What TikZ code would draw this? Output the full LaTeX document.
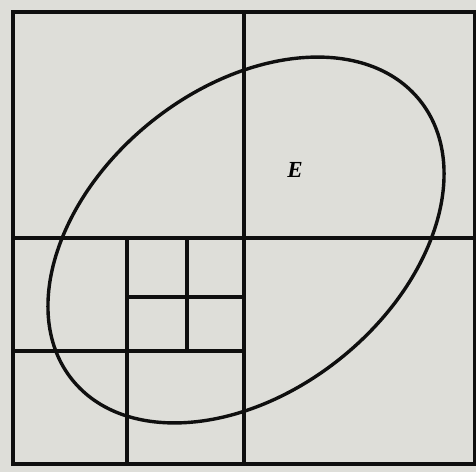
\documentclass[tikz,border=0pt]{standalone}
\usepackage{fontspec}
\setmainfont{Liberation Serif}
\definecolor{paper}{RGB}{222,222,217}
\definecolor{ink}{RGB}{15,15,15}
\begin{document}
\begin{tikzpicture}[x=1pt,y=-1pt,
  gridline/.style={draw=ink,line width=3.8pt,line cap=rect},
  oval/.style={draw=ink,line width=3.4pt},
  lab/.style={inner sep=0pt,font=\fontsize{23}{25}\selectfont\bfseries\itshape}]
\fill[paper] (0,0) rectangle (476,472);
\useasboundingbox (0,0) rectangle (476,472);
% outer square
\draw[gridline] (13,12) rectangle (475,464);
% main cross
\draw[gridline] (244,12) -- (244,464);
\draw[gridline] (13,238) -- (475,238);
% lower-left quadrant subdivision
\draw[gridline] (13,351) -- (244,351);
\draw[gridline] (127,238) -- (127,464);
% inner small square subdivision
\draw[gridline] (187,238) -- (187,351);
\draw[gridline] (127,297) -- (244,297);
% ellipse
\draw[oval, rotate around={38.8:(246,240)}] (246,240) ellipse [x radius=223, y radius=151.5];
\node[lab] (E) at (295,170) {E};
\end{tikzpicture}
\end{document}
